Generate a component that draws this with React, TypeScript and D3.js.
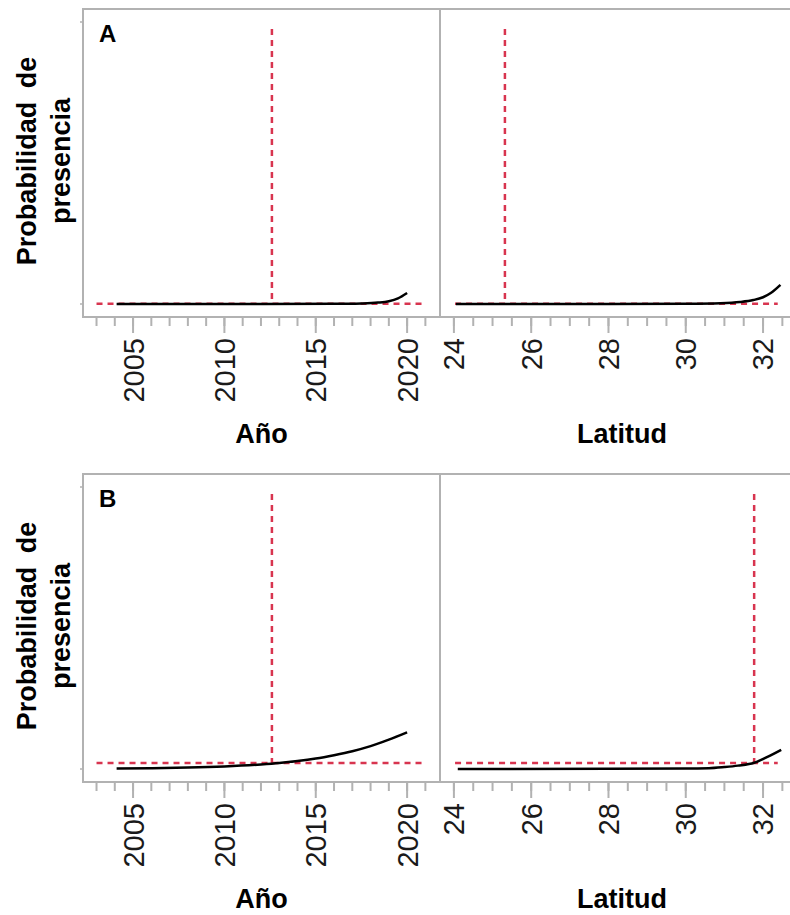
import React, { useRef, useEffect } from 'react';
import * as d3 from 'd3';

const W = 790;
const H = 915;

// profile curves (x value, predicted probability)
const yearsA = [2004.1, 2008, 2012, 2016, 2017.5, 2018.4, 2019, 2019.5, 2020];
const probYearA = [0, 0, 0, 0.0005, 0.002, 0.005, 0.010, 0.020, 0.039];
const latsA = [24.05, 28, 30, 30.9, 31.4, 31.75, 32.0, 32.2, 32.45];
const probLatA = [0, 0, 0.001, 0.003, 0.007, 0.014, 0.024, 0.039, 0.068];

const yearsB = [2004.1, 2006, 2008, 2010, 2012, 2013, 2014, 2015, 2016, 2017, 2018, 2019, 2020];
const probYearB = [0.002, 0.003, 0.005, 0.009, 0.016, 0.021, 0.028, 0.037, 0.049, 0.063, 0.081, 0.104, 0.13];
const latsB = [24.1, 28, 30, 30.6, 31.0, 31.35, 31.77, 32.1, 32.47];
const probLatB = [0, 0.0005, 0.002, 0.003, 0.007, 0.012, 0.022, 0.042, 0.068];

// current settings (red crosshairs)
const panelLabels = ['A', 'B'];
const yearNow = [2012.6, 2012.6];
const latNow = [25.32, 31.77];
const probNow = [0.001, 0.021];

// axis ticks
const yearMajor = [2005, 2010, 2015, 2020];
const yearMinor = d3.range(2003, 2022);
const latMajor = [24, 26, 28, 30, 32];
const latMinor = d3.range(24, 32.51, 0.5);
const probTicks = [0, 1];

const FONT = '"Liberation Sans", Arial, sans-serif';
const GRAY = '#b2b2b2';
const RED = '#d8344f';

const App = () => {
  const ref = useRef<SVGSVGElement>(null);

  useEffect(() => {
    const svg = d3.select(ref.current);
    svg.selectAll('*').remove();

    const left = 83, mid = 440, right = 804;
    const panelTops = [9, 474];
    const panelH = 308;

    const xYear = d3.scaleLinear().domain([2002.26, 2021.8]).range([left, mid]);
    const xLat = d3.scaleLinear().domain([23.64, 33.06]).range([mid, right]);

    const curves = [
      [{ xs: yearsA, ps: probYearA }, { xs: latsA, ps: probLatA }],
      [{ xs: yearsB, ps: probYearB }, { xs: latsB, ps: probLatB }]
    ];

    panelTops.forEach((top, i) => {
      const bottom = top + panelH;
      const y = d3.scaleLinear().domain([0, 1]).range([bottom - 13, top + 13]);
      const g = svg.append('g');

      // frame + divider
      g.append('rect')
        .attr('x', left).attr('y', top)
        .attr('width', right - left).attr('height', panelH)
        .attr('fill', 'none').attr('stroke', GRAY).attr('stroke-width', 2);
      g.append('line')
        .attr('x1', mid).attr('x2', mid).attr('y1', top).attr('y2', bottom)
        .attr('stroke', GRAY).attr('stroke-width', 2);

      // y ticks (no labels)
      g.selectAll('.yt').data(probTicks).join('line')
        .attr('x1', left - 3).attr('x2', left)
        .attr('y1', d => y(d)).attr('y2', d => y(d))
        .attr('stroke', GRAY).attr('stroke-width', 1.5);

      // x ticks
      const drawTicks = (scale, minor, major) => {
        g.append('g').selectAll('line').data(minor).join('line')
          .attr('x1', d => scale(d)).attr('x2', d => scale(d))
          .attr('y1', bottom + 1).attr('y2', bottom + 9)
          .attr('stroke', GRAY).attr('stroke-width', 2);
        g.append('g').selectAll('line').data(major).join('line')
          .attr('x1', d => scale(d)).attr('x2', d => scale(d))
          .attr('y1', bottom + 1).attr('y2', bottom + 16)
          .attr('stroke', GRAY).attr('stroke-width', 2);
        g.append('g').selectAll('text').data(major).join('text')
          .attr('transform', d => `translate(${scale(d)},${bottom + 21}) rotate(-90)`)
          .attr('text-anchor', 'end')
          .attr('dy', '0.36em')
          .style('font-family', FONT)
          .style('font-size', '29px')
          .attr('fill', '#1a1a1a')
          .text(d => d);
      };
      drawTicks(xYear, yearMinor, yearMajor);
      drawTicks(xLat, latMinor, latMajor);

      // red crosshairs
      const dash = '6,5';
      const redLine = (x1, x2, y1, y2) => g.append('line')
        .attr('x1', x1).attr('x2', x2).attr('y1', y1).attr('y2', y2)
        .attr('stroke', RED).attr('stroke-width', 2.5).attr('stroke-dasharray', dash);
      redLine(xYear(2003), xYear(2020.8), y(probNow[i]), y(probNow[i]));
      redLine(xLat(24.03), xLat(32.38), y(probNow[i]), y(probNow[i]));
      redLine(xYear(yearNow[i]), xYear(yearNow[i]), y(0.975), y(probNow[i]));
      redLine(xLat(latNow[i]), xLat(latNow[i]), y(0.975), y(probNow[i]));

      // profile curves
      [xYear, xLat].forEach((scale, j) => {
        const c = curves[i][j];
        const line = d3.line<number>()
          .x((d, k) => scale(c.xs[k]))
          .y(d => y(d))
          .curve(d3.curveMonotoneX);
        g.append('path')
          .attr('d', line(c.ps))
          .attr('fill', 'none')
          .attr('stroke', '#000')
          .attr('stroke-width', 2.5);
      });

      // panel letter
      g.append('text')
        .attr('x', 99).attr('y', top + 33)
        .style('font-family', FONT).style('font-size', '24px').style('font-weight', 'bold')
        .text(panelLabels[i]);

      // axis titles
      [['Año', (left + mid) / 2], ['Latitud', 622]].forEach(([t, cx]) => {
        g.append('text')
          .attr('x', cx).attr('y', bottom + 126)
          .attr('text-anchor', 'middle')
          .style('font-family', FONT).style('font-size', '27px').style('font-weight', 'bold')
          .text(t);
      });

      // y title, two lines
      const cy = (top + bottom) / 2 - 2;
      [['Probabilidad de', 36], ['presencia', 70]].forEach(([t, bx]) => {
        g.append('text')
          .attr('transform', `translate(${bx},${cy}) rotate(-90)`)
          .attr('text-anchor', 'middle')
          .style('font-family', FONT).style('font-size', '27px').style('font-weight', 'bold')
          .style('word-spacing', '6px')
          .text(t);
      });
    });
  }, []);

  return (
    <svg
      ref={ref}
      width={W}
      height={H}
      style={{ position: 'absolute', left: 0, top: 0, background: '#fff', display: 'block' }}
    />
  );
};

export default App;
